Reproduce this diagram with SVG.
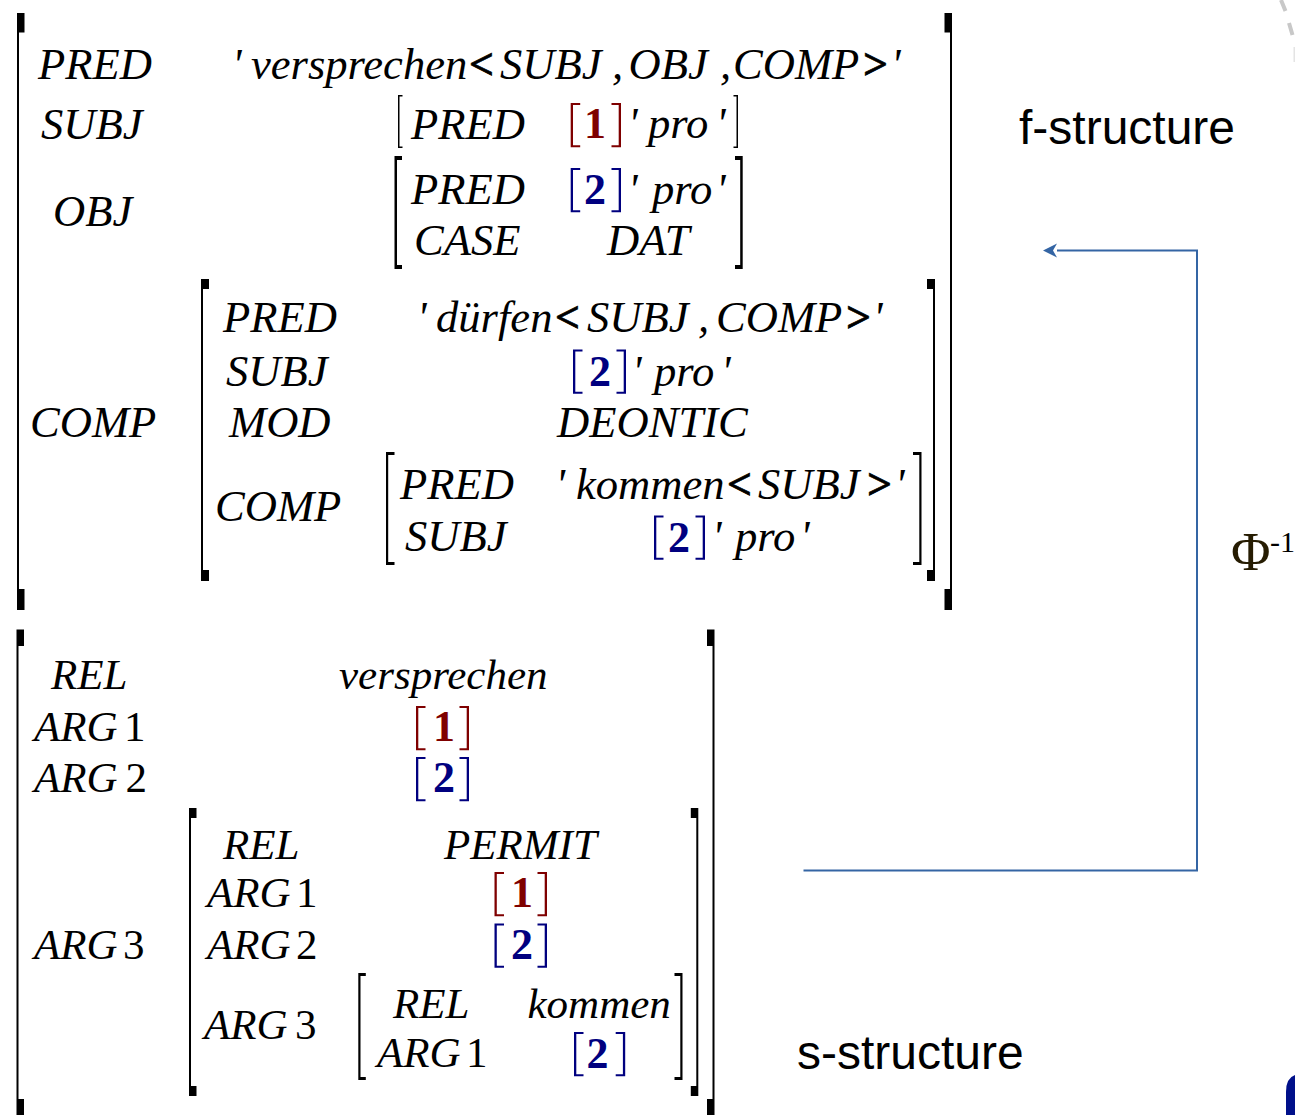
<svg xmlns="http://www.w3.org/2000/svg" width="1295" height="1115" viewBox="0 0 1295 1115">
<style>
text{font-family:"Liberation Serif","Times New Roman",serif;font-style:italic;fill:#000}
#f-structure text{font-size:44.6px}
#s-structure text{font-size:43px}
#f-structure .u,#s-structure .u{font-style:normal}
#f-structure .b,#s-structure .b{font-style:normal;font-weight:bold;font-size:44px}
.o{stroke:#000;stroke-width:.6}
.r{fill:#7f0000}
.n{fill:#00007f}
.s{font-family:"Liberation Sans",Arial,sans-serif;font-style:normal;font-size:48px}
.f{fill:#000;stroke:none}
.c{fill:none;stroke:#3465a4;stroke-width:2}
</style>
<defs>
<marker id="arr" markerUnits="userSpaceOnUse" markerWidth="16" markerHeight="16" refX="1" refY="8" orient="auto"><path d="M15 8L1 1L5 8L1 15Z" fill="#3465a4"/></marker>
<path id="lb" d="M0 0h9.500v2h-7.200v40.200h7.200v2h-9.500z"/>
<path id="rb" d="M9.500 0h-9.500v2h7.200v40.200h-7.200v2h9.500z"/>
</defs>
<g id="f-structure">
<g id="f-brackets">
<path class="f" d="M17 13h7.500v19.500h-5.500v556.500h5.500v21h-7.500z"/>
<path class="f" d="M952 13h-7.500v19.500h5.500v556.500h-5.500v21h7.500z"/>
<path class="f" d="M398 95h4.500v1.500h-3v50h3v1.500h-4.500z"/>
<path class="f" d="M738 95h-4.500v1.500h3v50h-3v1.500h4.500z"/>
<path class="f" d="M394.500 156h7.500v4h-5v105h5v4h-7.500z"/>
<path class="f" d="M742.700 156h-7.700v4h5.200v105h-5.200v4h7.700z"/>
<path class="f" d="M201 279h8v10h-6v281h6v11h-8z"/>
<path class="f" d="M935 279h-8v10h6v281h-6v11h8z"/>
<path class="f" d="M386 452h8.500v3h-6.300v107h6.300v3h-8.500z"/>
<path class="f" d="M921.500 452h-8.500v3h6.300v107h-6.300v3h8.500z"/>
</g>
<g id="f-text">
<text x="38" y="79">PRED</text>
<text x="41" y="138.500">SUBJ</text>
<text x="53" y="225.500">OBJ</text>
<text x="30" y="437">COMP</text>
<text x="232" y="79">'</text><text x="251" y="79">versprechen</text><text class="b o" x="469" y="79">&lt;</text><text x="500" y="79">SUBJ</text><text x="612" y="79">,</text><text x="628.500" y="79">OBJ</text><text x="720" y="79">,</text><text x="733" y="79">COMP</text><text class="b o" x="863" y="79">&gt;</text><text x="891" y="79">'</text>
<text x="411" y="138.500">PRED</text>
<text x="628" y="138">'</text><text x="648" y="138">pro</text><text x="716" y="138">'</text>
<text x="411" y="204">PRED</text>
<text x="414" y="255">CASE</text>
<text x="628" y="204">'</text><text x="652" y="204">pro</text><text x="716" y="204">'</text>
<text x="607" y="255">DAT</text>
<text x="223" y="332">PRED</text>
<text x="226" y="386">SUBJ</text>
<text x="229" y="437">MOD</text>
<text x="215" y="521">COMP</text>
<text x="417" y="332">'</text><text x="436" y="332">dürfen</text><text class="b o" x="555" y="332">&lt;</text><text x="587" y="332">SUBJ</text><text x="698" y="332">,</text><text x="716" y="332">COMP</text><text class="b o" x="846" y="332">&gt;</text><text x="873" y="332">'</text>
<text x="632" y="385.500">'</text><text x="654" y="385.500">pro</text><text x="721" y="385.500">'</text>
<text x="557" y="437">DEONTIC</text>
<text x="400" y="499">PRED</text>
<text x="405" y="551">SUBJ</text>
<text x="555.500" y="499">'</text><text x="576" y="499">kommen</text><text class="b o" x="727" y="499">&lt;</text><text x="758" y="499">SUBJ</text><text class="b o" x="867" y="499">&gt;</text><text x="895" y="499">'</text>
<text x="712" y="551">'</text><text x="735" y="551">pro</text><text x="800" y="551">'</text>
</g>
<g id="f-tags">
<use href="#lb" class="r" x="570.700" y="103"/><text class="b r" x="584" y="138">1</text><use href="#rb" class="r" x="611.500" y="103"/>
<use href="#lb" class="n" x="570.700" y="168"/><text class="b n" x="584" y="204">2</text><use href="#rb" class="n" x="611.500" y="168"/>
<use href="#lb" class="n" x="573" y="349.500"/><text class="b n" x="589" y="386">2</text><use href="#rb" class="n" x="616.500" y="349.500"/>
<use href="#lb" class="n" x="654" y="515.500"/><text class="b n" x="668" y="552">2</text><use href="#rb" class="n" x="695.500" y="515.500"/>
</g>
</g>
<g id="s-structure">
<g id="s-brackets">
<path class="f" d="M16.500 629.500h7.500v16.500h-5.500v453h5.500v16h-7.500z"/>
<path class="f" d="M714.500 629.500h-7.500v16.500h5.500v453h-5.500v16h7.500z"/>
<path class="f" d="M189 808h7.500v10h-5.500v268h5.500v10h-7.500z"/>
<path class="f" d="M698.300 808h-7.500v10h5.500v268h-5.500v10h7.500z"/>
<path class="f" d="M358.300 973h7.500v3h-5.300v101h5.300v3h-7.500z"/>
<path class="f" d="M682.500 973h-8v3h5.800v101h-5.800v3h8z"/>
</g>
<g id="s-text">
<text x="51" y="689">REL</text>
<text x="34" y="740.500">ARG</text><text class="u" x="124" y="740.500">1</text>
<text x="34" y="792">ARG</text><text class="u" x="125.500" y="792">2</text>
<text x="34" y="959">ARG</text><text class="u" x="123" y="959">3</text>
<text x="339" y="689">versprechen</text>
<text x="223" y="859">REL</text>
<text x="207" y="907">ARG</text><text class="u" x="296" y="907">1</text>
<text x="207" y="959">ARG</text><text class="u" x="296" y="959">2</text>
<text x="204" y="1038.500">ARG</text><text class="u" x="295" y="1038.500">3</text>
<text x="444" y="859">PERMIT</text>
<text x="393" y="1018">REL</text>
<text x="377" y="1067">ARG</text><text class="u" x="466" y="1067">1</text>
<text x="527.500" y="1018">kommen</text>
</g>
<g id="s-tags">
<use href="#lb" class="r" x="416" y="706"/><text class="b r" x="433" y="741">1</text><use href="#rb" class="r" x="459.500" y="706"/>
<use href="#lb" class="n" x="416" y="757"/><text class="b n" x="433" y="792">2</text><use href="#rb" class="n" x="459.500" y="757"/>
<use href="#lb" class="r" x="494.500" y="872"/><text class="b r" x="511" y="907">1</text><use href="#rb" class="r" x="537.500" y="872"/>
<use href="#lb" class="n" x="494.500" y="923.500"/><text class="b n" x="511" y="959">2</text><use href="#rb" class="n" x="537.500" y="923.500"/>
<use href="#lb" class="n" x="574" y="1032"/><text class="b n" x="586.500" y="1068">2</text><use href="#rb" class="n" x="615.700" y="1032"/>
</g>
</g>
<g id="labels">
<text class="s" x="1019" y="144">f-structure</text>
<text class="s" x="797" y="1069">s-structure</text>
<text x="1231" y="570" style="fill:#261c02;font-style:normal;font-size:54px">Φ</text>
<text x="1270" y="552" style="font-style:normal;font-size:30px">-1</text>
</g>
<g id="connectors">
<path class="c" d="M803.500 870.500H1197V250.500H1057" marker-end="url(#arr)"/>
</g>
<g id="edge-marks">
<path d="M1281 0L1285.500 11M1289 23L1292.500 35" stroke="#c8c8c8" stroke-width="4" fill="none"/>
<path d="M1294.500 47V62" stroke="#e4e4e4" stroke-width="2" fill="none"/>
<path d="M1295 1075Q1286 1078 1286 1092V1115H1295Z" fill="#00108a"/>
</g>
</svg>
